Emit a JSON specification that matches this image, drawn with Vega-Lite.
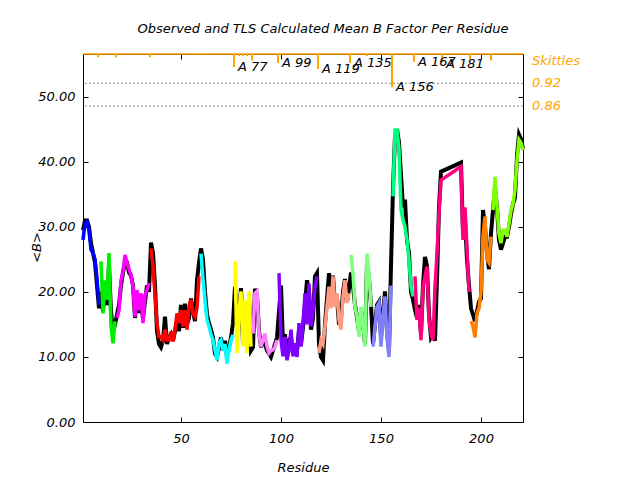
{
"$schema": "https://vega.github.io/schema/vega-lite/v6.json",
"width": 440, "height": 368,
"autosize": {"type": "none"},
"padding": {"left": 83, "top": 54, "right": 117, "bottom": 58},
"title": {"text": "Observed and TLS Calculated Mean B Factor Per Residue", "dx": 20, "offset": 17, "font": "DejaVu Sans", "fontStyle": "italic", "fontWeight": "normal", "fontSize": 13, "color": "black"},
"config": {
 "font": "DejaVu Sans",
 "view": {"stroke": "black", "strokeWidth": 1},
 "axis": {"labelFont": "DejaVu Sans", "labelFontStyle": "italic", "labelFontSize": 13, "labelColor": "black", "titleFont": "DejaVu Sans", "titleFontStyle": "italic", "titleFontWeight": "normal", "titleFontSize": 13, "titleColor": "black", "tickColor": "black", "domainColor": "black", "grid": false}
},
"datasets": {
 "res": [
{"r":1,"c":28,"o":29.5,"g":"g1"},{"r":2,"c":30.5,"o":31,"g":"g1"},{"r":3,"c":30.8,"o":31,"g":"g1"},{"r":4,"c":29.5,"o":30,"g":"g1"},{"r":5,"c":26.5,"o":27.5,"g":"g1"},{"r":6,"c":26,"o":26,"g":"g1"},{"r":7,"c":25,"o":24.5,"g":"g1"},{"r":8,"c":22,"o":21,"g":"g1"},{"r":9,"c":18,"o":17.5,"g":"g1"},
{"r":10,"c":24.7,"o":20,"g":"g2"},{"r":11,"c":16.7,"o":17,"g":"g2"},{"r":12,"c":21.8,"o":21,"g":"g2"},{"r":13,"c":18.8,"o":18,"g":"g2"},{"r":14,"c":26,"o":24,"g":"g2"},{"r":15,"c":14.7,"o":17,"g":"g2"},{"r":16,"c":12.1,"o":14,"g":"g2"},{"r":17,"c":15.5,"o":15,"g":"g2"},
{"r":18,"c":16,"o":16.5,"g":"g3"},{"r":19,"c":17.2,"o":18,"g":"g3"},{"r":20,"c":21.8,"o":21,"g":"g3"},{"r":21,"c":23.1,"o":23,"g":"g3"},{"r":22,"c":25.7,"o":24.5,"g":"g3"},{"r":23,"c":24.5,"o":24.5,"g":"g3"},{"r":24,"c":23.5,"o":23,"g":"g3"},{"r":25,"c":22.6,"o":22.5,"g":"g3"},{"r":26,"c":20.8,"o":21,"g":"g3"},{"r":27,"c":16.2,"o":16,"g":"g3"},{"r":28,"c":20.3,"o":20,"g":"g3"},{"r":29,"c":17.2,"o":16.8,"g":"g3"},{"r":30,"c":19.8,"o":18.5,"g":"g3"},{"r":31,"c":15.2,"o":16,"g":"g3"},{"r":32,"c":19.5,"o":18.5,"g":"g3"},{"r":33,"c":20.3,"o":21,"g":"g3"},{"r":34,"c":21.4,"o":20,"g":"g3"},
{"r":35,"c":26.7,"o":27.6,"g":"g4"},{"r":36,"c":24,"o":26,"g":"g4"},{"r":37,"c":19.5,"o":21,"g":"g4"},{"r":38,"c":15.2,"o":14,"g":"g4"},{"r":39,"c":13.1,"o":12,"g":"g4"},{"r":40,"c":13.1,"o":11.5,"g":"g4"},{"r":41,"c":12.6,"o":12.5,"g":"g4"},{"r":42,"c":14.2,"o":16.2,"g":"g4"},{"r":43,"c":12.6,"o":12,"g":"g4"},{"r":44,"c":12.6,"o":13,"g":"g4"},{"r":45,"c":13.9,"o":13.5,"g":"g4"},{"r":46,"c":12.4,"o":12.5,"g":"g4"},{"r":47,"c":14.2,"o":14,"g":"g4"},{"r":48,"c":16.7,"o":15.5,"g":"g4"},{"r":49,"c":15.2,"o":14,"g":"g4"},{"r":50,"c":17.2,"o":18,"g":"g4"},{"r":51,"c":14.7,"o":14.5,"g":"g4"},{"r":52,"c":17.2,"o":18.2,"g":"g4"},{"r":53,"c":14.2,"o":15,"g":"g4"},{"r":54,"c":17.7,"o":16,"g":"g4"},{"r":55,"c":18.8,"o":19,"g":"g4"},{"r":56,"c":16.7,"o":17,"g":"g4"},{"r":57,"c":16.2,"o":15.5,"g":"g4"},{"r":58,"c":17.5,"o":21.8,"g":"g4"},{"r":59,"c":22.4,"o":24.5,"g":"g4"},
{"r":60,"c":25.9,"o":26.7,"g":"g5"},{"r":61,"c":22,"o":25,"g":"g5"},{"r":62,"c":18.8,"o":20,"g":"g5"},{"r":63,"c":15.7,"o":16.5,"g":"g5"},{"r":64,"c":14.7,"o":15.2,"g":"g5"},{"r":65,"c":13.5,"o":14.2,"g":"g5"},{"r":66,"c":12.6,"o":13,"g":"g5"},{"r":67,"c":11.1,"o":10.5,"g":"g5"},{"r":68,"c":9.5,"o":10,"g":"g5"},{"r":69,"c":12.1,"o":11.5,"g":"g5"},{"r":70,"c":12.6,"o":13,"g":"g5"},{"r":71,"c":11,"o":11,"g":"g5"},{"r":72,"c":12,"o":12.5,"g":"g5"},{"r":73,"c":9,"o":10,"g":"g5"},{"r":74,"c":11.1,"o":11.5,"g":"g5"},{"r":75,"c":12.6,"o":13,"g":"g5"},{"r":76,"c":13.4,"o":15.2,"g":"g5"},
{"r":77,"c":24.7,"o":20.8,"g":"g6"},{"r":78,"c":10.6,"o":15,"g":"g6"},{"r":79,"c":17.2,"o":16.5,"g":"g6"},{"r":80,"c":20.1,"o":20.6,"g":"g6"},{"r":81,"c":11.6,"o":12,"g":"g6"},{"r":82,"c":18.8,"o":18,"g":"g6"},{"r":83,"c":10.6,"o":11.5,"g":"g6"},{"r":84,"c":20.1,"o":19,"g":"g6"},{"r":85,"c":11.6,"o":11,"g":"g6"},
{"r":86,"c":13.6,"o":11.5,"g":"g7"},{"r":87,"c":19.8,"o":20.5,"g":"g7"},{"r":88,"c":20.1,"o":19.5,"g":"g7"},{"r":89,"c":13.6,"o":14,"g":"g7"},{"r":90,"c":11.6,"o":11.5,"g":"g7"},{"r":91,"c":12.6,"o":12.5,"g":"g7"},{"r":92,"c":13.6,"o":12,"g":"g7"},{"r":93,"c":11.6,"o":11,"g":"g7"},{"r":94,"c":10.6,"o":10.5,"g":"g7"},{"r":95,"c":11,"o":10,"g":"g7"},{"r":96,"c":11.1,"o":11,"g":"g7"},{"r":97,"c":11.6,"o":12,"g":"g7"},{"r":98,"c":12.6,"o":13,"g":"g7"},
{"r":99,"c":22.9,"o":17,"g":"g8"},{"r":100,"c":12.6,"o":21,"g":"g8"},{"r":101,"c":10.1,"o":12,"g":"g8"},{"r":102,"c":13.1,"o":13.5,"g":"g8"},{"r":103,"c":9.5,"o":10,"g":"g8"},{"r":104,"c":11.1,"o":12.5,"g":"g8"},{"r":105,"c":14.2,"o":13,"g":"g8"},{"r":106,"c":10.1,"o":10.5,"g":"g8"},{"r":107,"c":12.1,"o":11.5,"g":"g8"},{"r":108,"c":10,"o":11,"g":"g8"},{"r":109,"c":15.2,"o":14,"g":"g8"},{"r":110,"c":11.6,"o":12,"g":"g8"},{"r":111,"c":15,"o":14.5,"g":"g8"},{"r":112,"c":19.8,"o":18,"g":"g8"},{"r":113,"c":15,"o":21.8,"g":"g8"},{"r":114,"c":21.3,"o":20,"g":"g8"},{"r":115,"c":14.7,"o":14.2,"g":"g8"},{"r":116,"c":17,"o":16,"g":"g8"},{"r":117,"c":20.8,"o":22.4,"g":"g8"},{"r":118,"c":22.4,"o":22.9,"g":"g8"},
{"r":119,"c":10.6,"o":12,"g":"g9"},{"r":120,"c":12.6,"o":10,"g":"g9"},{"r":121,"c":12,"o":9.5,"g":"g9"},{"r":122,"c":14.7,"o":15,"g":"g9"},{"r":123,"c":17.7,"o":19,"g":"g9"},{"r":124,"c":20.8,"o":22.9,"g":"g9"},{"r":125,"c":17.5,"o":18,"g":"g9"},{"r":126,"c":22.4,"o":22.5,"g":"g9"},{"r":127,"c":17.7,"o":18,"g":"g9"},{"r":128,"c":19.8,"o":19,"g":"g9"},{"r":129,"c":15.7,"o":15,"g":"g9"},{"r":130,"c":14.2,"o":16,"g":"g9"},{"r":131,"c":19.3,"o":20,"g":"g9"},{"r":132,"c":21.8,"o":22,"g":"g9"},{"r":133,"c":18.3,"o":18.5,"g":"g9"},{"r":134,"c":19.8,"o":20.5,"g":"g9"},
{"r":135,"c":25.7,"o":23,"g":"g10"},{"r":136,"c":22.9,"o":21,"g":"g10"},{"r":137,"c":17.7,"o":18,"g":"g10"},{"r":138,"c":16.2,"o":16,"g":"g10"},{"r":139,"c":13.1,"o":14,"g":"g10"},{"r":140,"c":17.7,"o":17,"g":"g10"},{"r":141,"c":15.2,"o":15.5,"g":"g10"},{"r":142,"c":11.6,"o":12,"g":"g10"},{"r":143,"c":25.9,"o":24.5,"g":"g10"},{"r":144,"c":22.9,"o":22,"g":"g10"},{"r":145,"c":17.7,"o":18,"g":"g10"},
{"r":146,"c":11.6,"o":12,"g":"g11"},{"r":147,"c":14.7,"o":15,"g":"g11"},{"r":148,"c":17.7,"o":18,"g":"g11"},{"r":149,"c":18.3,"o":18.5,"g":"g11"},{"r":150,"c":11.6,"o":13,"g":"g11"},{"r":151,"c":16.2,"o":16.5,"g":"g11"},{"r":152,"c":19.3,"o":20.1,"g":"g11"},{"r":153,"c":13,"o":14,"g":"g11"},{"r":154,"c":10,"o":11,"g":"g11"},{"r":155,"c":21,"o":24,"g":"g11"},
{"r":156,"c":34.7,"o":36,"g":"g12"},{"r":157,"c":44.9,"o":44,"g":"g12"},{"r":158,"c":44.9,"o":45,"g":"g12"},{"r":159,"c":42,"o":43,"g":"g12"},{"r":160,"c":32.6,"o":38,"g":"g12"},{"r":161,"c":31.1,"o":33,"g":"g12"},{"r":162,"c":30,"o":34.2,"g":"g12"},{"r":163,"c":28,"o":28,"g":"g12"},{"r":164,"c":24.9,"o":26,"g":"g12"},{"r":165,"c":20.8,"o":20,"g":"g12"},{"r":166,"c":19.3,"o":18.8,"g":"g12"},
{"r":167,"c":22.4,"o":17.2,"g":"g13"},{"r":168,"c":15.7,"o":16,"g":"g13"},{"r":169,"c":17.5,"o":18,"g":"g13"},{"r":170,"c":12.6,"o":13.5,"g":"g13"},{"r":171,"c":20.8,"o":21,"g":"g13"},{"r":172,"c":22.4,"o":25.4,"g":"g13"},{"r":173,"c":23.9,"o":24,"g":"g13"},{"r":174,"c":15.7,"o":16.5,"g":"g13"},{"r":175,"c":13.6,"o":13,"g":"g13"},{"r":176,"c":12.6,"o":13.5,"g":"g13"},{"r":177,"c":20.8,"o":12.5,"g":"g13"},{"r":178,"c":25.9,"o":22,"g":"g13"},{"r":179,"c":32.1,"o":33,"g":"g13"},{"r":180,"c":37.2,"o":38.5,"g":"g13"},{"r":190,"c":39.3,"o":39.9,"g":"g13"},{"r":191,"c":28,"o":29,"g":"g13"},{"r":192,"c":33,"o":31,"g":"g13"},{"r":193,"c":26.5,"o":25,"g":"g13"},{"r":194,"c":20,"o":21,"g":"g13"},
{"r":195,"c":15.5,"o":17.5,"g":"g14"},{"r":196,"c":14.7,"o":16.5,"g":"g14"},{"r":197,"c":13,"o":15.5,"g":"g14"},{"r":198,"c":16.7,"o":17,"g":"g14"},{"r":199,"c":17.5,"o":18.5,"g":"g14"},{"r":200,"c":20,"o":19,"g":"g14"},{"r":201,"c":28.5,"o":32.6,"g":"g14"},{"r":202,"c":31.6,"o":30,"g":"g14"},{"r":203,"c":25,"o":26,"g":"g14"},{"r":204,"c":24.5,"o":23.5,"g":"g14"},{"r":205,"c":28.5,"o":29,"g":"g14"},
{"r":206,"c":32.6,"o":32.6,"g":"g15"},{"r":207,"c":37.7,"o":36,"g":"g15"},{"r":208,"c":33.1,"o":33,"g":"g15"},{"r":209,"c":29,"o":28,"g":"g15"},{"r":210,"c":27.5,"o":26.5,"g":"g15"},{"r":211,"c":29.5,"o":27.5,"g":"g15"},{"r":212,"c":29.5,"o":28.5,"g":"g15"},{"r":213,"c":28.5,"o":28.5,"g":"g15"},{"r":214,"c":30.5,"o":30,"g":"g15"},{"r":215,"c":32.5,"o":32,"g":"g15"},{"r":216,"c":33.6,"o":33.5,"g":"g15"},{"r":217,"c":35.7,"o":34.5,"g":"g15"},{"r":218,"c":40.3,"o":41,"g":"g15"},{"r":219,"c":43.4,"o":44.2,"g":"g15"},{"r":220,"c":42.9,"o":43.5,"g":"g15"},{"r":221,"c":41.8,"o":42,"g":"g15"}
 ],
 "skittles": [
{"r":8.5,"e":56.1},{"r":17.5,"e":56.1},{"r":34.5,"e":56.1},{"r":59.5,"e":56.4},{"r":76.5,"e":54.6},{"r":79,"e":56.3},{"r":81,"e":56.3},{"r":83,"e":56.3},{"r":85.5,"e":55.6},{"r":98.5,"e":55.2},{"r":118.5,"e":54.3},{"r":134.5,"e":55.2},{"r":143,"e":56.3},{"r":155.5,"e":51.5},{"r":166.5,"e":55.4},{"r":180.5,"e":55.4},{"r":194.5,"e":55.7},{"r":205,"e":55.6}
 ],
 "labels": [
{"r":76.5,"e":54.6,"t":"A 77"},{"r":98.5,"e":55.2,"t":"A 99"},{"r":118.5,"e":54.3,"t":"A 119"},{"r":134.5,"e":55.2,"t":"A 135"},{"r":155.5,"e":51.5,"t":"A 156"},{"r":166.5,"e":55.4,"t":"A 167"},{"r":180.5,"e":55.1,"t":"A 181"}
 ],
 "refs": [{"v":52.1,"t":"0.92"},{"v":48.6,"t":"0.86"},{"v":55.5,"t":"Skittles"}]
},
"resolve": {"axis": {"x": "independent", "y": "independent"}},
"layer": [
 {
  "data": {"name": "refs"},
  "transform": [{"filter": "datum.v < 55"}],
  "mark": {"type": "rule", "color": "#8c8c8c", "strokeWidth": 1, "strokeDash": [2, 2]},
  "encoding": {"y": {"field": "v", "type": "quantitative", "axis": null, "scale": {"domain": [0, 56.6], "nice": false, "zero": true}}}
 },
 {
  "data": {"name": "res"},
  "mark": {"type": "line", "color": "black", "strokeWidth": 4},
  "encoding": {
   "x": {"field": "r", "type": "quantitative", "scale": {"domain": [1, 221], "nice": false, "zero": false},
         "axis": {"title": "Residue", "values": [50, 100, 150, 200], "format": "d", "tickSize": -5, "labelPadding": 15, "titlePadding": 16, "domain": false}},
   "y": {"field": "o", "type": "quantitative", "scale": {"domain": [0, 56.6], "nice": false, "zero": true},
         "axis": {"title": "<B>", "values": [0, 10, 20, 30, 40, 50], "format": ".2f", "tickSize": -5, "labelPadding": 13, "titleX": -40, "titleY": 193, "domain": false}}
  }
 },
 {
  "data": {"name": "res"},
  "mark": {"type": "line", "strokeWidth": 3.5},
  "encoding": {
   "x": {"field": "r", "type": "quantitative", "axis": {"orient": "top", "labels": false, "title": null, "values": [50, 100, 150, 200], "tickSize": -5, "domain": false}},
   "y": {"field": "c", "type": "quantitative", "axis": {"orient": "right", "labels": false, "title": null, "values": [0, 10, 20, 30, 40, 50], "tickSize": -5, "domain": false}},
   "color": {"field": "g", "type": "nominal", "legend": null,
     "scale": {"domain": ["g1","g2","g3","g4","g5","g6","g7","g8","g9","g10","g11","g12","g13","g14","g15"],
               "range": ["#0000ff","#00ee00","#ff00ff","#ff0000","#00ffff","#ffff00","#ff80ff","#8000ff","#ff9980","#80ff80","#8080ff","#00ff80","#ff0080","#ff8000","#80ff00"]}}
  }
 },
 {
  "data": {"name": "res"},
  "transform": [{"filter": "datum.r == 1"}],
  "mark": {"type": "rule", "color": "orange", "strokeWidth": 1.5},
  "encoding": {"y": {"datum": 56.6, "axis": null}}
 },
 {
  "data": {"name": "skittles"},
  "mark": {"type": "rule", "color": "orange", "strokeWidth": 2},
  "encoding": {
   "x": {"field": "r", "type": "quantitative", "axis": null},
   "y": {"field": "e", "type": "quantitative", "axis": null},
   "y2": {"datum": 56.6}
  }
 },
 {
  "data": {"name": "labels"},
  "mark": {"type": "text", "align": "left", "baseline": "middle", "dx": 4, "dy": 0, "font": "DejaVu Sans", "fontStyle": "italic", "fontSize": 13, "color": "black"},
  "encoding": {
   "x": {"field": "r", "type": "quantitative", "axis": null},
   "y": {"field": "e", "type": "quantitative", "axis": null},
   "text": {"field": "t"}
  }
 },
 {
  "data": {"name": "refs"},
  "mark": {"type": "text", "align": "left", "baseline": "middle", "dx": 9, "font": "DejaVu Sans", "fontStyle": "italic", "fontSize": 13, "color": "orange"},
  "encoding": {
   "x": {"datum": 221, "axis": null},
   "y": {"field": "v", "type": "quantitative", "axis": null},
   "text": {"field": "t"}
  }
 }
]
}
